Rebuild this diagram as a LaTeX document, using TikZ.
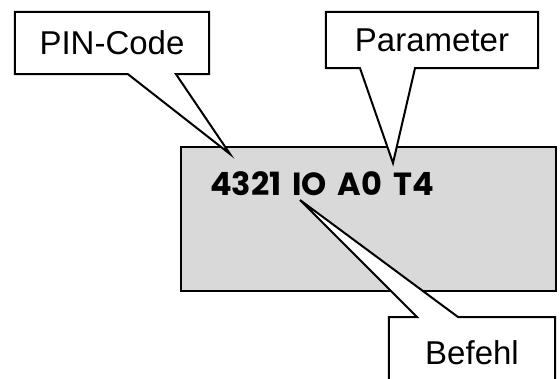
\documentclass[tikz,border=0pt]{standalone}
\usepackage{fontspec}
\setmainfont{Liberation Sans}
\newfontfamily\cmdfont{Poppins}[WordSpace=1.6]
\usetikzlibrary{positioning, backgrounds}
\definecolor{panelgray}{HTML}{D9D9D9}
\tikzstyle{outline} = [line width=2pt, draw=black, fill=white, line join=miter]
\tikzstyle{callout} = [rectangle, inner sep=0pt, font=\fontsize{33}{36}\selectfont]
\tikzstyle{panel} = [rectangle, draw=black, line width=2pt, fill=panelgray, inner sep=0pt]

\begin{document}
\begin{tikzpicture}[x=1pt, y=-1pt]
\useasboundingbox (0,0) rectangle (560,378);
% Placement of nodes
\node (pin) [callout, minimum width=194pt, minimum height=62pt] at (112,43) {PIN-Code};
\node (param) [callout, minimum width=212pt, minimum height=56pt] at (432,40) {Parameter};
\node (befehl) [callout, minimum width=166pt, minimum height=70pt, anchor=north] at (472,317) {Befehl};
\node (code) [anchor=base west, inner sep=0pt, font=\cmdfont\bfseries\fontsize{32}{36}\selectfont] at (210,195) {4321 IO A0 T4};

\coordinate (pinTip) at (230,154);
\coordinate (paramTip) at (393,163);
\coordinate (befehlTip) at (300,200);

% Placement of edges
\begin{scope}[on background layer]
\node (board) [panel, minimum width=375pt, minimum height=144pt] at (368.5,219) {};
% PIN-Code points down to the code
\draw [outline] (pin.north west) -- (pin.north east) -- (pin.south east)
  -- ([xshift=64pt]pin.south) -- (pinTip) -- ([xshift=16pt]pin.south)
  -- (pin.south west) -- cycle;
% Parameter
\draw [outline] (param.north west) -- (param.north east) -- (param.south east)
  -- ([xshift=-17pt]param.south) -- (paramTip) -- ([xshift=-72pt]param.south)
  -- (param.south west) -- cycle;
% Befehl points up
\draw [outline] (befehl.north west) -- ([xshift=-55pt]befehl.north) -- (befehlTip)
  -- ([xshift=-14pt]befehl.north) -- (befehl.north east) -- (befehl.south east)
  -- (befehl.south west) -- cycle;
\end{scope}

\end{tikzpicture}
\end{document}
